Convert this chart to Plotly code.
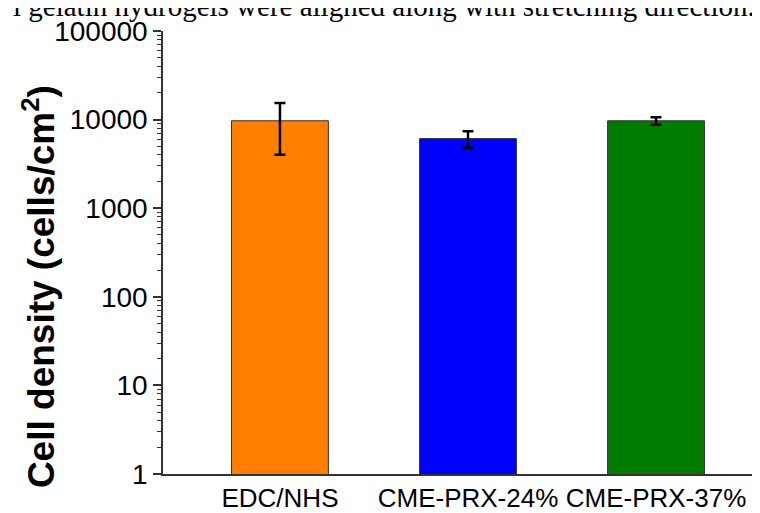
import plotly.graph_objects as go

categories = ["EDC/NHS", "CME-PRX-24%", "CME-PRX-37%"]
density = [9700, 6100, 9700]
density_err = [5700, 1300, 950]
bar_colors = ["#FF7F00", "#0000FF", "#007A00"]
y_tick_vals = [1, 10, 100, 1000, 10000, 100000]
y_tick_text = ["1", "10", "100", "1000", "10000", "100000"]
y_title = "Cell density (cells/cm<sup>2</sup>)"
caption = "l gelatin hydrogels were aligned along with stretching direction."

OFF = 8  # page body margin
W, H = 760, 513
# target plot area in screenshot pixels
PX0, PX1, PY0, PY1 = 163, 760, 31, 479
L = PX0 - OFF
T = PY0 - OFF
R = W - (PX1 - OFF)
B = H - (PY1 - OFF)
PW = PX1 - PX0
PH = PY1 - PY0


def xp(px):
    return (px - PX0) / PW


def yp(py):
    return (PY1 - py) / PH


fig = go.Figure()
fig.add_trace(go.Bar(
    x=[1, 2, 3],
    y=density,
    width=0.515,
    marker=dict(color=bar_colors, line=dict(color="#333333", width=1)),
    error_y=dict(type="data", array=density_err, visible=True,
                 color="black", thickness=2.5, width=5.5),
    showlegend=False,
))

fig.update_layout(
    width=W, height=H,
    margin=dict(l=L, r=R, t=T, b=B),
    plot_bgcolor="white", paper_bgcolor="white",
    font=dict(family="Arial, Liberation Sans, sans-serif", color="black"),
    xaxis=dict(
        range=[0.378, 3.553],
        tickvals=[1, 2, 3], ticktext=categories,
        ticks="", showline=True, linecolor="#333333", linewidth=1.5,
        showgrid=False, zeroline=False,
        tickfont=dict(size=26, family="Arial, Liberation Sans, sans-serif", color="black"),
    ),
    yaxis=dict(
        type="log", range=[0, 5],
        tickvals=y_tick_vals, ticktext=y_tick_text,
        ticks="outside", ticklen=8, tickwidth=1.5, tickcolor="#333333",
        showline=True, linecolor="#333333", linewidth=1.5,
        showgrid=False, zeroline=False,
        tickfont=dict(size=28, family="Arial, Liberation Sans, sans-serif", color="black"),
        minor=dict(ticks="outside", ticklen=4, tickwidth=1, tickcolor="#333333",
                   dtick="D1", showgrid=False),
    ),
    annotations=[
        dict(text="<b>" + y_title + "</b>", textangle=-90,
             xref="paper", yref="paper",
             x=xp(39), y=yp(290),
             xanchor="center", yanchor="middle", showarrow=False,
             font=dict(size=37, family="Arial, Liberation Sans, sans-serif", color="black")),
        dict(text=caption, xref="paper", yref="paper",
             x=xp(757), y=yp(24),
             xanchor="right", yanchor="bottom", showarrow=False,
             font=dict(size=29, family="Liberation Serif, Times New Roman, serif", color="black")),
    ],
)

fig.write_html("out.html")
